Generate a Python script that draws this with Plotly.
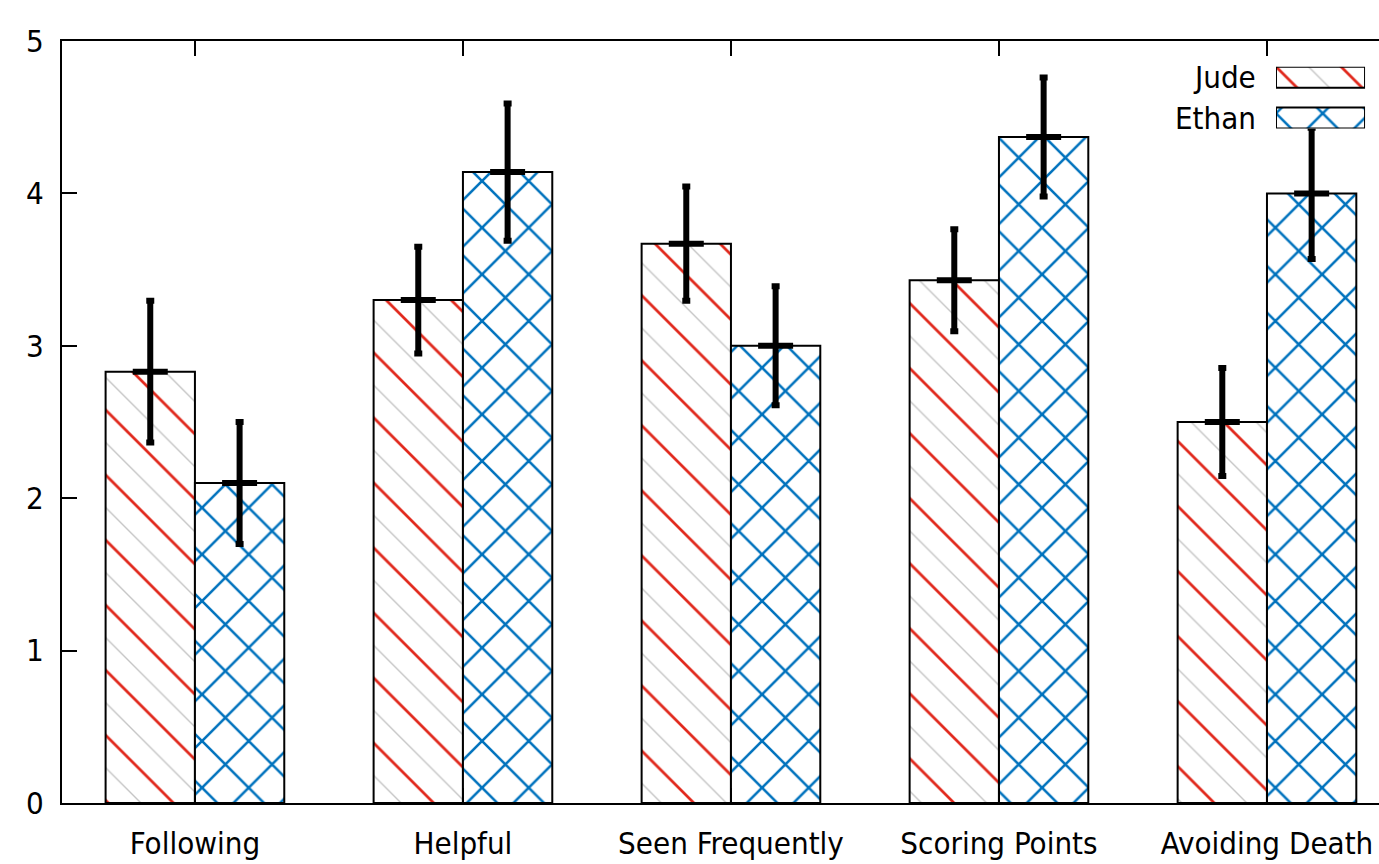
import plotly.graph_objects as go

categories = ["Following", "Helpful", "Seen Frequently", "Scoring Points", "Avoiding Death"]
jude_values = [2.83, 3.30, 3.67, 3.43, 2.50]
jude_errors = [0.465, 0.35, 0.375, 0.335, 0.355]
ethan_values = [2.10, 4.14, 3.00, 4.37, 4.00]
ethan_errors = [0.40, 0.45, 0.39, 0.39, 0.43]
y_ticks = [0, 1, 2, 3, 4, 5]
series_names = ["Jude", "Ethan"]

RED = "#e2281c"
BLUE = "#0072bd"
GRAY = "#c4c4c4"
FONT = "DejaVu Sans Condensed, DejaVu Sans"
FS = 31

idx = list(range(len(categories)))
fig = go.Figure()

# Jude: light gray fine hatch underneath, red hatch on top
fig.add_trace(go.Bar(
    x=idx, y=jude_values, offsetgroup="jude", showlegend=False, hoverinfo="skip",
    marker=dict(color="rgba(0,0,0,0)", line=dict(width=0),
                pattern=dict(shape="\\", fgcolor=GRAY, bgcolor="white", size=23,
                             solidity=0.06, fillmode="replace")),
))
fig.add_trace(go.Bar(
    x=idx, y=jude_values, offsetgroup="jude", name=series_names[0], showlegend=False,
    marker=dict(color="rgba(0,0,0,0)", line=dict(color="black", width=2),
                pattern=dict(shape="\\", fgcolor=RED, bgcolor="rgba(0,0,0,0)", size=46,
                             solidity=0.06, fillmode="replace")),
    error_y=dict(type="data", array=jude_errors, visible=True, color="black",
                 thickness=6, width=4),
))
fig.add_trace(go.Bar(
    x=idx, y=ethan_values, offsetgroup="ethan", name=series_names[1], showlegend=False,
    marker=dict(color="rgba(0,0,0,0)", line=dict(color="black", width=2),
                pattern=dict(shape="x", fgcolor=BLUE, bgcolor="white", size=33,
                             solidity=0.15, fillmode="replace")),
    error_y=dict(type="data", array=ethan_errors, visible=True, color="black",
                 thickness=6, width=4),
))

# mean crossbars
fig.add_trace(go.Scatter(
    x=[i - 1 / 6 for i in idx], y=jude_values, mode="markers", showlegend=False,
    hoverinfo="skip",
    marker=dict(symbol="line-ew", size=25, line=dict(color="black", width=6)),
))
fig.add_trace(go.Scatter(
    x=[i + 1 / 6 for i in idx], y=ethan_values, mode="markers", showlegend=False,
    hoverinfo="skip",
    marker=dict(symbol="line-ew", size=25, line=dict(color="black", width=6)),
))

# custom legend swatches (on an auxiliary hidden axis pair)
fig.add_trace(go.Bar(
    y=[1], x=[1], base=0, orientation="h", width=0.515, xaxis="x2", yaxis="y2",
    offsetgroup="leg", showlegend=False, hoverinfo="skip",
    marker=dict(color="rgba(0,0,0,0)", line=dict(width=0),
                pattern=dict(shape="\\", fgcolor=GRAY, bgcolor="white", size=23,
                             solidity=0.06, fillmode="replace")),
))
fig.add_trace(go.Bar(
    y=[1], x=[1], base=0, orientation="h", width=0.515, xaxis="x2", yaxis="y2",
    offsetgroup="leg", showlegend=False, hoverinfo="skip",
    marker=dict(color="rgba(0,0,0,0)", line=dict(color="black", width=2),
                pattern=dict(shape="\\", fgcolor=RED, bgcolor="rgba(0,0,0,0)", size=46,
                             solidity=0.06, fillmode="replace")),
))
fig.add_trace(go.Bar(
    y=[0], x=[1], base=0, orientation="h", width=0.515, xaxis="x2", yaxis="y2",
    offsetgroup="leg", showlegend=False, hoverinfo="skip",
    marker=dict(color="rgba(0,0,0,0)", line=dict(color="black", width=2),
                pattern=dict(shape="x", fgcolor=BLUE, bgcolor="white", size=33,
                             solidity=0.15, fillmode="replace")),
))

fig.add_annotation(text=series_names[0], x=0.9081, y=0.9528, xref="paper", yref="paper",
                   xanchor="right", yanchor="middle", showarrow=False,
                   font=dict(family=FONT, size=FS, color="black"))
fig.add_annotation(text=series_names[1], x=0.9081, y=0.8990, xref="paper", yref="paper",
                   xanchor="right", yanchor="middle", showarrow=False,
                   font=dict(family=FONT, size=FS, color="black"))

fig.update_layout(
    width=1379, height=864,
    margin=dict(l=62, r=0, t=41, b=61, pad=0),
    paper_bgcolor="white", plot_bgcolor="white",
    barmode="group", bargap=1 / 3, bargroupgap=0,
    font=dict(family=FONT, size=FS, color="black"),
    showlegend=False,
    xaxis=dict(
        range=[-0.496, 4.418], tickmode="array", tickvals=idx, ticktext=categories,
        showline=True, linecolor="black", linewidth=2, mirror="ticks",
        ticks="inside", ticklen=15, tickwidth=2, tickcolor="black",
        showgrid=False, zeroline=False, tickfont=dict(family=FONT, size=FS),
        ticklabelstandoff=12,
    ),
    yaxis=dict(
        range=[0, 5], tickmode="array", tickvals=y_ticks,
        showline=True, linecolor="black", linewidth=2,
        ticks="inside", ticklen=15, tickwidth=2, tickcolor="black",
        showgrid=False, zeroline=False, tickfont=dict(family=FONT, size=FS),
        ticklabelstandoff=10,
    ),
    xaxis2=dict(domain=[0.9218, 0.9894], range=[0, 1], anchor="y2", visible=False,
                fixedrange=True),
    yaxis2=dict(domain=[0.8852, 0.9663], range=[-0.2575, 1.2575], anchor="x2",
                visible=False, fixedrange=True),
)

fig.write_html(
    "out.html",
    config={"displayModeBar": False},
    post_script="document.body.style.margin='0';document.body.style.overflow='hidden';",
)
